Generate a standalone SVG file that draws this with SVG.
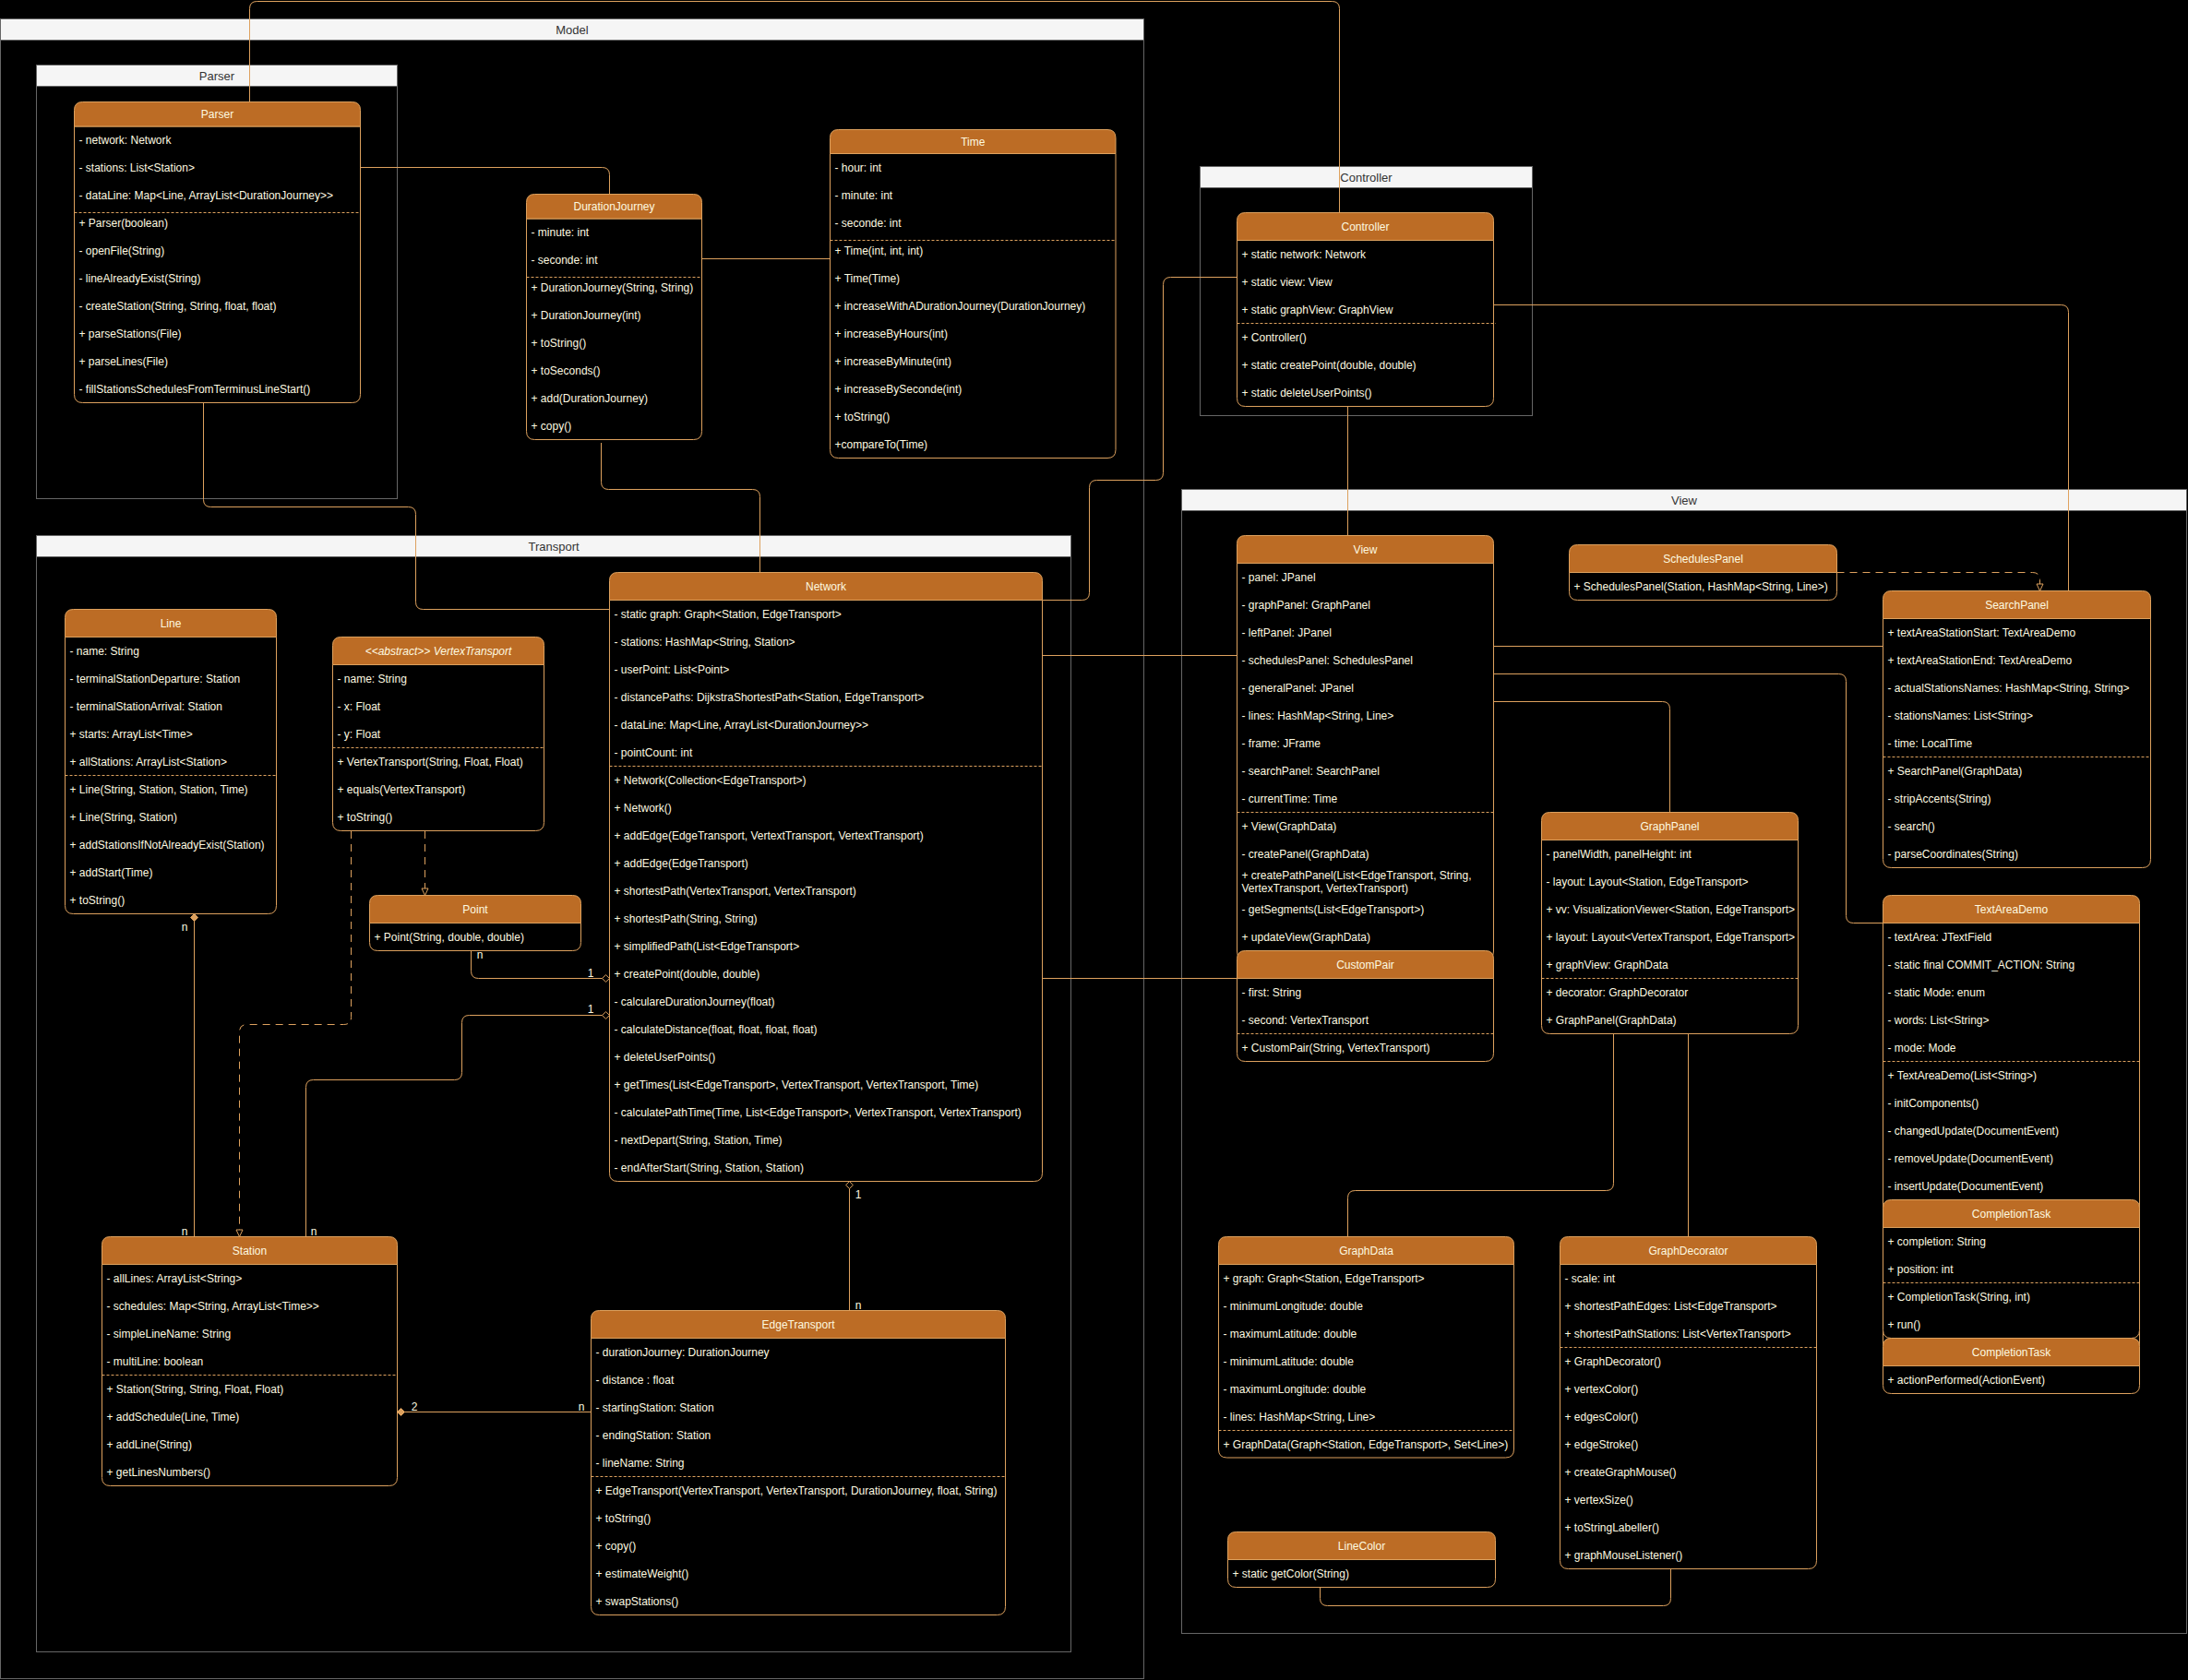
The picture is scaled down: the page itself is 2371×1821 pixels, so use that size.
<svg xmlns="http://www.w3.org/2000/svg" width="2371" height="1821" viewBox="0 0 2371 1821">
<style>
.hd{fill:#BC6C25;stroke:#DDA15E;stroke-width:1}
.bd{fill:#000;stroke:#DDA15E;stroke-width:1}
.sep{fill:none;stroke:#DDA15E;stroke-width:1;stroke-dasharray:3 2}
.t{font-family:"Liberation Sans",Arial,Helvetica,sans-serif;font-size:12px;fill:#FEFAE0}
.ti{text-anchor:middle}
.it{font-style:italic}
.cbox{fill:none;stroke:#666666;stroke-width:1}
.cbar{fill:#F5F5F5;stroke:#666666;stroke-width:1}
.ctt{font-family:"Liberation Sans",Arial,Helvetica,sans-serif;font-size:13px;fill:#333333;text-anchor:middle}
.e{fill:none;stroke:#DDA15E;stroke-width:1}
.dash{stroke-dasharray:8 6}
.lb{font-family:"Liberation Sans",Arial,Helvetica,sans-serif;font-size:12px;fill:#FEFAE0;text-anchor:middle}
</style>
<defs>
<marker id="dHollow" markerUnits="userSpaceOnUse" markerWidth="10" markerHeight="10" viewBox="0 0 10 10" refX="9" refY="5" orient="auto-start-reverse"><path d="M1,5 L5,1.2 L9,5 L5,8.8 Z" fill="#000" stroke="#DDA15E"/></marker>
<marker id="dFilled" markerUnits="userSpaceOnUse" markerWidth="10" markerHeight="10" viewBox="0 0 10 10" refX="9" refY="5" orient="auto-start-reverse"><path d="M1,5 L5,1 L9,5 L5,9 Z" fill="#DDA15E" stroke="#DDA15E"/></marker>
<marker id="tri" markerUnits="userSpaceOnUse" markerWidth="10" markerHeight="10" viewBox="0 0 10 10" refX="8.5" refY="5" orient="auto"><path d="M1,1.5 L8.5,5 L1,8.5 Z" fill="#000" stroke="#DDA15E"/></marker>
</defs>
<rect x="0" y="0" width="2371" height="1821" fill="#000"/>

<!-- containers -->
<g id="container-Model">
<rect class="cbox" x="0.5" y="20.5" width="1239" height="1799"/>
<rect class="cbar" x="0.5" y="20.5" width="1239" height="23"/>
<text class="ctt" x="620" y="36.5">Model</text>
</g>
<g id="container-Parser">
<rect class="cbox" x="39.5" y="70.5" width="391" height="470"/>
<rect class="cbar" x="39.5" y="70.5" width="391" height="23"/>
<text class="ctt" x="235" y="86.5">Parser</text>
</g>
<g id="container-Transport">
<rect class="cbox" x="39.5" y="580.5" width="1121" height="1210"/>
<rect class="cbar" x="39.5" y="580.5" width="1121" height="23"/>
<text class="ctt" x="600" y="596.5">Transport</text>
</g>
<g id="container-Controller">
<rect class="cbox" x="1300.5" y="180.5" width="360" height="270"/>
<rect class="cbar" x="1300.5" y="180.5" width="360" height="23"/>
<text class="ctt" x="1480.5" y="196.5">Controller</text>
</g>
<g id="container-View">
<rect class="cbox" x="1280.5" y="530.5" width="1089" height="1240"/>
<rect class="cbar" x="1280.5" y="530.5" width="1089" height="23"/>
<text class="ctt" x="1825" y="546.5">View</text>
</g>

<!-- connectors -->
<g id="connectors">
<path class="e" d="M270.5,110.5 V9.5 Q270.5,1.5 278.5,1.5 H1443.5 Q1451.5,1.5 1451.5,9.5 V230.5"/>
<path class="e" d="M390.5,181.5 H652.5 Q660.5,181.5 660.5,189.5 V210.5"/>
<path class="e" d="M760.5,280.5 H899.5"/>
<path class="e" d="M651.5,480 V522.5 Q651.5,530.5 659.5,530.5 H815.5 Q823.5,530.5 823.5,538.5 V620.5"/>
<path class="e" d="M220.5,436.5 V541.5 Q220.5,549.5 228.5,549.5 H442.5 Q450.5,549.5 450.5,557.5 V652.5 Q450.5,660.5 458.5,660.5 H660.5"/>
<path class="e" d="M1129.5,650.5 H1172.5 Q1180.5,650.5 1180.5,642.5 V528.5 Q1180.5,520.5 1188.5,520.5 H1252.5 Q1260.5,520.5 1260.5,512.5 V308.5 Q1260.5,300.5 1268.5,300.5 H1340.5"/>
<path class="e" d="M1618.5,330.5 H2233.5 Q2241.5,330.5 2241.5,338.5 V640.5"/>
<path class="e" d="M1460.5,440.5 V580.5"/>
<path class="e" d="M1129.5,710.5 H1340.5"/>
<path class="e" d="M1129.5,1060.5 H1340.5"/>
<path class="e" d="M1618.5,700.5 H2040.5"/>
<path class="e" d="M1618.5,730.5 H1992.5 Q2000.5,730.5 2000.5,738.5 V992.5 Q2000.5,1000.5 2008.5,1000.5 H2040.5"/>
<path class="e" d="M1618.5,760.5 H1801.5 Q1809.5,760.5 1809.5,768.5 V880.5"/>
<path class="e dash" d="M1990.5,620.5 H2202.5 Q2210.5,620.5 2210.5,628.5 V640.5" marker-end="url(#tri)"/>
<path class="e dash" d="M460.5,901 V970.5" marker-end="url(#tri)"/>
<path class="e dash" d="M380.5,901 V1102.5 Q380.5,1110.5 372.5,1110.5 H267.5 Q259.5,1110.5 259.5,1118.5 V1340.5" marker-end="url(#tri)"/>
<path class="e" d="M210.5,990.5 V1340.5" marker-start="url(#dFilled)"/>
<path class="e" d="M510.5,1030.5 V1052.5 Q510.5,1060.5 518.5,1060.5 H660.5" marker-end="url(#dHollow)"/>
<path class="e" d="M331.5,1340.5 V1178.5 Q331.5,1170.5 339.5,1170.5 H492.5 Q500.5,1170.5 500.5,1162.5 V1108.5 Q500.5,1100.5 508.5,1100.5 H660.5" marker-end="url(#dHollow)"/>
<path class="e" d="M920.5,1420.5 V1280.5" marker-end="url(#dHollow)"/>
<path class="e" d="M640.5,1530.5 H430.5" marker-end="url(#dFilled)"/>
<path class="e" d="M1748.5,1120.5 V1282.5 Q1748.5,1290.5 1740.5,1290.5 H1468.5 Q1460.5,1290.5 1460.5,1298.5 V1340.5"/>
<path class="e" d="M1829.5,1120.5 V1340.5"/>
<path class="e" d="M1430.5,1720.5 V1732.5 Q1430.5,1740.5 1438.5,1740.5 H1802.5 Q1810.5,1740.5 1810.5,1732.5 V1700.5"/>
<text class="lb" x="200" y="1008.5">n</text>
<text class="lb" x="200" y="1338.5">n</text>
<text class="lb" x="520" y="1038.5">n</text>
<text class="lb" x="640" y="1058.5">1</text>
<text class="lb" x="340" y="1338.5">n</text>
<text class="lb" x="640" y="1098">1</text>
<text class="lb" x="930" y="1299">1</text>
<text class="lb" x="930" y="1418.5">n</text>
<text class="lb" x="449" y="1529">2</text>
<text class="lb" x="630" y="1529">n</text>
</g>

<!-- classes -->
<g id="node-Parser">
<path class="bd" d="M80.5,137 V427.5 Q80.5,436.5 89.5,436.5 H381.5 Q390.5,436.5 390.5,427.5 V137 Z"/>
<path class="hd" d="M80.5,137 V119.5 Q80.5,110.5 89.5,110.5 H381.5 Q390.5,110.5 390.5,119.5 V137 Z"/>
<line class="sep" x1="80.5" y1="230.5" x2="390.5" y2="230.5"/>
<g class="t">
<text class="ti" x="235.5" y="128">Parser</text>
<text x="85.5" y="156">- network: Network</text>
<text x="85.5" y="186">- stations: List&lt;Station&gt;</text>
<text x="85.5" y="216">- dataLine: Map&lt;Line, ArrayList&lt;DurationJourney&gt;&gt;</text>
<text x="85.5" y="246">+ Parser(boolean)</text>
<text x="85.5" y="276">- openFile(String)</text>
<text x="85.5" y="306">- lineAlreadyExist(String)</text>
<text x="85.5" y="336">- createStation(String, String, float, float)</text>
<text x="85.5" y="366">+ parseStations(File)</text>
<text x="85.5" y="396">+ parseLines(File)</text>
<text x="85.5" y="426">- fillStationsSchedulesFromTerminusLineStart()</text>
</g>
</g>

<g id="node-DurationJourney">
<path class="bd" d="M570.5,237 V467.5 Q570.5,476.5 579.5,476.5 H751.5 Q760.5,476.5 760.5,467.5 V237 Z"/>
<path class="hd" d="M570.5,237 V219.5 Q570.5,210.5 579.5,210.5 H751.5 Q760.5,210.5 760.5,219.5 V237 Z"/>
<line class="sep" x1="570.5" y1="300.5" x2="760.5" y2="300.5"/>
<g class="t">
<text class="ti" x="665.5" y="228">DurationJourney</text>
<text x="575.5" y="256">- minute: int</text>
<text x="575.5" y="286">- seconde: int</text>
<text x="575.5" y="316">+ DurationJourney(String, String)</text>
<text x="575.5" y="346">+ DurationJourney(int)</text>
<text x="575.5" y="376">+ toString()</text>
<text x="575.5" y="406">+ toSeconds()</text>
<text x="575.5" y="436">+ add(DurationJourney)</text>
<text x="575.5" y="466">+ copy()</text>
</g>
</g>

<g id="node-Time">
<path class="bd" d="M899.5,166.5 V487.5 Q899.5,496.5 908.5,496.5 H1200 Q1209,496.5 1209,487.5 V166.5 Z"/>
<path class="hd" d="M899.5,166.5 V149.5 Q899.5,140.5 908.5,140.5 H1200 Q1209,140.5 1209,149.5 V166.5 Z"/>
<line class="sep" x1="899.5" y1="260.5" x2="1209" y2="260.5"/>
<g class="t">
<text class="ti" x="1054.3" y="158">Time</text>
<text x="904.5" y="186">- hour: int</text>
<text x="904.5" y="216">- minute: int</text>
<text x="904.5" y="246">- seconde: int</text>
<text x="904.5" y="276">+ Time(int, int, int)</text>
<text x="904.5" y="306">+ Time(Time)</text>
<text x="904.5" y="336">+ increaseWithADurationJourney(DurationJourney)</text>
<text x="904.5" y="366">+ increaseByHours(int)</text>
<text x="904.5" y="396">+ increaseByMinute(int)</text>
<text x="904.5" y="426">+ increaseBySeconde(int)</text>
<text x="904.5" y="456">+ toString()</text>
<text x="904.5" y="486">+compareTo(Time)</text>
</g>
</g>

<g id="node-Controller">
<path class="bd" d="M1340.5,260.5 V431.5 Q1340.5,440.5 1349.5,440.5 H1609.5 Q1618.5,440.5 1618.5,431.5 V260.5 Z"/>
<path class="hd" d="M1340.5,260.5 V239.5 Q1340.5,230.5 1349.5,230.5 H1609.5 Q1618.5,230.5 1618.5,239.5 V260.5 Z"/>
<line class="sep" x1="1340.5" y1="350.5" x2="1621" y2="350.5"/>
<g class="t">
<text class="ti" x="1479.5" y="250">Controller</text>
<text x="1345.5" y="280">+ static network: Network</text>
<text x="1345.5" y="310">+ static view: View</text>
<text x="1345.5" y="340">+ static graphView: GraphView</text>
<text x="1345.5" y="370">+ Controller()</text>
<text x="1345.5" y="400">+ static createPoint(double, double)</text>
<text x="1345.5" y="430">+ static deleteUserPoints()</text>
</g>
</g>

<g id="node-Line">
<path class="bd" d="M70.5,690.5 V981.5 Q70.5,990.5 79.5,990.5 H290.5 Q299.5,990.5 299.5,981.5 V690.5 Z"/>
<path class="hd" d="M70.5,690.5 V669.5 Q70.5,660.5 79.5,660.5 H290.5 Q299.5,660.5 299.5,669.5 V690.5 Z"/>
<line class="sep" x1="70.5" y1="840.5" x2="299.5" y2="840.5"/>
<g class="t">
<text class="ti" x="185" y="680">Line</text>
<text x="75.5" y="710">- name: String</text>
<text x="75.5" y="740">- terminalStationDeparture: Station</text>
<text x="75.5" y="770">- terminalStationArrival: Station</text>
<text x="75.5" y="800">+ starts: ArrayList&lt;Time&gt;</text>
<text x="75.5" y="830">+ allStations: ArrayList&lt;Station&gt;</text>
<text x="75.5" y="860">+ Line(String, Station, Station, Time)</text>
<text x="75.5" y="890">+ Line(String, Station)</text>
<text x="75.5" y="920">+ addStationsIfNotAlreadyExist(Station)</text>
<text x="75.5" y="950">+ addStart(Time)</text>
<text x="75.5" y="980">+ toString()</text>
</g>
</g>

<g id="node-VertexTransport">
<path class="bd" d="M360.5,720.5 V891.5 Q360.5,900.5 369.5,900.5 H580.5 Q589.5,900.5 589.5,891.5 V720.5 Z"/>
<path class="hd" d="M360.5,720.5 V699.5 Q360.5,690.5 369.5,690.5 H580.5 Q589.5,690.5 589.5,699.5 V720.5 Z"/>
<line class="sep" x1="360.5" y1="810.5" x2="589.5" y2="810.5"/>
<g class="t">
<text class="ti it" x="475" y="710">&lt;&lt;abstract&gt;&gt; VertexTransport</text>
<text x="365.5" y="740">- name: String</text>
<text x="365.5" y="770">- x: Float</text>
<text x="365.5" y="800">- y: Float</text>
<text x="365.5" y="830">+ VertexTransport(String, Float, Float)</text>
<text x="365.5" y="860">+ equals(VertexTransport)</text>
<text x="365.5" y="890">+ toString()</text>
</g>
</g>

<g id="node-Point">
<path class="bd" d="M400.5,1000.5 V1021.5 Q400.5,1030.5 409.5,1030.5 H620.5 Q629.5,1030.5 629.5,1021.5 V1000.5 Z"/>
<path class="hd" d="M400.5,1000.5 V979.5 Q400.5,970.5 409.5,970.5 H620.5 Q629.5,970.5 629.5,979.5 V1000.5 Z"/>
<g class="t">
<text class="ti" x="515" y="989.5">Point</text>
<text x="405.5" y="1020">+ Point(String, double, double)</text>
</g>
</g>

<g id="node-Station">
<path class="bd" d="M110.5,1370.5 V1601.5 Q110.5,1610.5 119.5,1610.5 H421.5 Q430.5,1610.5 430.5,1601.5 V1370.5 Z"/>
<path class="hd" d="M110.5,1370.5 V1349.5 Q110.5,1340.5 119.5,1340.5 H421.5 Q430.5,1340.5 430.5,1349.5 V1370.5 Z"/>
<line class="sep" x1="110.5" y1="1490.5" x2="430.5" y2="1490.5"/>
<g class="t">
<text class="ti" x="270.5" y="1360">Station</text>
<text x="115.5" y="1390">- allLines: ArrayList&lt;String&gt;</text>
<text x="115.5" y="1420">- schedules: Map&lt;String, ArrayList&lt;Time&gt;&gt;</text>
<text x="115.5" y="1450">- simpleLineName: String</text>
<text x="115.5" y="1480">- multiLine: boolean</text>
<text x="115.5" y="1510">+ Station(String, String, Float, Float)</text>
<text x="115.5" y="1540">+ addSchedule(Line, Time)</text>
<text x="115.5" y="1570">+ addLine(String)</text>
<text x="115.5" y="1600">+ getLinesNumbers()</text>
</g>
</g>

<g id="node-Network">
<path class="bd" d="M660.5,650.5 V1271.5 Q660.5,1280.5 669.5,1280.5 H1120.5 Q1129.5,1280.5 1129.5,1271.5 V650.5 Z"/>
<path class="hd" d="M660.5,650.5 V629.5 Q660.5,620.5 669.5,620.5 H1120.5 Q1129.5,620.5 1129.5,629.5 V650.5 Z"/>
<line class="sep" x1="660.5" y1="830.5" x2="1129.5" y2="830.5"/>
<g class="t">
<text class="ti" x="895" y="640">Network</text>
<text x="665.5" y="670">- static graph: Graph&lt;Station, EdgeTransport&gt;</text>
<text x="665.5" y="700">- stations: HashMap&lt;String, Station&gt;</text>
<text x="665.5" y="730">- userPoint: List&lt;Point&gt;</text>
<text x="665.5" y="760">- distancePaths: DijkstraShortestPath&lt;Station, EdgeTransport&gt;</text>
<text x="665.5" y="790">- dataLine: Map&lt;Line, ArrayList&lt;DurationJourney&gt;&gt;</text>
<text x="665.5" y="820">- pointCount: int</text>
<text x="665.5" y="850">+ Network(Collection&lt;EdgeTransport&gt;)</text>
<text x="665.5" y="880">+ Network()</text>
<text x="665.5" y="910">+ addEdge(EdgeTransport, VertextTransport, VertextTransport)</text>
<text x="665.5" y="940">+ addEdge(EdgeTransport)</text>
<text x="665.5" y="970">+ shortestPath(VertexTransport, VertexTransport)</text>
<text x="665.5" y="1000">+ shortestPath(String, String)</text>
<text x="665.5" y="1030">+ simplifiedPath(List&lt;EdgeTransport&gt;</text>
<text x="665.5" y="1060">+ createPoint(double, double)</text>
<text x="665.5" y="1090">- calculareDurationJourney(float)</text>
<text x="665.5" y="1120">- calculateDistance(float, float, float, float)</text>
<text x="665.5" y="1150">+ deleteUserPoints()</text>
<text x="665.5" y="1180">+ getTimes(List&lt;EdgeTransport&gt;, VertexTransport, VertexTransport, Time)</text>
<text x="665.5" y="1210">- calculatePathTime(Time, List&lt;EdgeTransport&gt;, VertexTransport, VertexTransport)</text>
<text x="665.5" y="1240">- nextDepart(String, Station, Time)</text>
<text x="665.5" y="1270">- endAfterStart(String, Station, Station)</text>
</g>
</g>

<g id="node-EdgeTransport">
<path class="bd" d="M640.5,1450.5 V1741.5 Q640.5,1750.5 649.5,1750.5 H1080.5 Q1089.5,1750.5 1089.5,1741.5 V1450.5 Z"/>
<path class="hd" d="M640.5,1450.5 V1429.5 Q640.5,1420.5 649.5,1420.5 H1080.5 Q1089.5,1420.5 1089.5,1429.5 V1450.5 Z"/>
<line class="sep" x1="640.5" y1="1600.5" x2="1089.5" y2="1600.5"/>
<g class="t">
<text class="ti" x="865" y="1440">EdgeTransport</text>
<text x="645.5" y="1470">- durationJourney: DurationJourney</text>
<text x="645.5" y="1500">- distance : float</text>
<text x="645.5" y="1530">- startingStation: Station</text>
<text x="645.5" y="1560">- endingStation: Station</text>
<text x="645.5" y="1590">- lineName: String</text>
<text x="645.5" y="1620">+ EdgeTransport(VertexTransport, VertexTransport, DurationJourney, float, String)</text>
<text x="645.5" y="1650">+ toString()</text>
<text x="645.5" y="1680">+ copy()</text>
<text x="645.5" y="1710">+ estimateWeight()</text>
<text x="645.5" y="1740">+ swapStations()</text>
</g>
</g>

<g id="node-View">
<path class="bd" d="M1340.5,610.5 V1031 Q1340.5,1040 1349.5,1040 H1609.5 Q1618.5,1040 1618.5,1031 V610.5 Z"/>
<path class="hd" d="M1340.5,610.5 V589.5 Q1340.5,580.5 1349.5,580.5 H1609.5 Q1618.5,580.5 1618.5,589.5 V610.5 Z"/>
<line class="sep" x1="1340.5" y1="880.5" x2="1618.5" y2="880.5"/>
<g class="t">
<text class="ti" x="1479.5" y="600">View</text>
<text x="1345.5" y="630">- panel: JPanel</text>
<text x="1345.5" y="660">- graphPanel: GraphPanel</text>
<text x="1345.5" y="690">- leftPanel: JPanel</text>
<text x="1345.5" y="720">- schedulesPanel: SchedulesPanel</text>
<text x="1345.5" y="750">- generalPanel: JPanel</text>
<text x="1345.5" y="780">- lines: HashMap&lt;String, Line&gt;</text>
<text x="1345.5" y="810">- frame: JFrame</text>
<text x="1345.5" y="840">- searchPanel: SearchPanel</text>
<text x="1345.5" y="870">- currentTime: Time</text>
<text x="1345.5" y="900">+ View(GraphData)</text>
<text x="1345.5" y="930">- createPanel(GraphData)</text>
<text x="1345.5" y="953">+ createPathPanel(List&lt;EdgeTransport, String,</text>
<text x="1345.5" y="967">VertexTransport, VertexTransport)</text>
<text x="1345.5" y="990">- getSegments(List&lt;EdgeTransport&gt;)</text>
<text x="1345.5" y="1020">+ updateView(GraphData)</text>
</g>
</g>

<g id="node-CustomPair">
<path class="bd" d="M1340.5,1060.5 V1141.5 Q1340.5,1150.5 1349.5,1150.5 H1609.5 Q1618.5,1150.5 1618.5,1141.5 V1060.5 Z"/>
<path class="hd" d="M1340.5,1060.5 V1039.5 Q1340.5,1030.5 1349.5,1030.5 H1609.5 Q1618.5,1030.5 1618.5,1039.5 V1060.5 Z"/>
<line class="sep" x1="1340.5" y1="1120.5" x2="1618.5" y2="1120.5"/>
<g class="t">
<text class="ti" x="1479.5" y="1050">CustomPair</text>
<text x="1345.5" y="1080">- first: String</text>
<text x="1345.5" y="1110">- second: VertexTransport</text>
<text x="1345.5" y="1140">+ CustomPair(String, VertexTransport)</text>
</g>
</g>

<g id="node-SchedulesPanel">
<path class="bd" d="M1700.5,620.5 V641.5 Q1700.5,650.5 1709.5,650.5 H1981.5 Q1990.5,650.5 1990.5,641.5 V620.5 Z"/>
<path class="hd" d="M1700.5,620.5 V599.5 Q1700.5,590.5 1709.5,590.5 H1981.5 Q1990.5,590.5 1990.5,599.5 V620.5 Z"/>
<g class="t">
<text class="ti" x="1845.5" y="610">SchedulesPanel</text>
<text x="1705.5" y="640">+ SchedulesPanel(Station, HashMap&lt;String, Line&gt;)</text>
</g>
</g>

<g id="node-SearchPanel">
<path class="bd" d="M2040.5,670.5 V931.5 Q2040.5,940.5 2049.5,940.5 H2321.5 Q2330.5,940.5 2330.5,931.5 V670.5 Z"/>
<path class="hd" d="M2040.5,670.5 V649.5 Q2040.5,640.5 2049.5,640.5 H2321.5 Q2330.5,640.5 2330.5,649.5 V670.5 Z"/>
<line class="sep" x1="2040.5" y1="820.5" x2="2330.5" y2="820.5"/>
<g class="t">
<text class="ti" x="2185.5" y="660">SearchPanel</text>
<text x="2045.5" y="690">+ textAreaStationStart: TextAreaDemo</text>
<text x="2045.5" y="720">+ textAreaStationEnd: TextAreaDemo</text>
<text x="2045.5" y="750">- actualStationsNames: HashMap&lt;String, String&gt;</text>
<text x="2045.5" y="780">- stationsNames: List&lt;String&gt;</text>
<text x="2045.5" y="810">- time: LocalTime</text>
<text x="2045.5" y="840">+ SearchPanel(GraphData)</text>
<text x="2045.5" y="870">- stripAccents(String)</text>
<text x="2045.5" y="900">- search()</text>
<text x="2045.5" y="930">- parseCoordinates(String)</text>
</g>
</g>

<g id="node-GraphPanel">
<path class="bd" d="M1670.5,910.5 V1111.5 Q1670.5,1120.5 1679.5,1120.5 H1939.5 Q1948.5,1120.5 1948.5,1111.5 V910.5 Z"/>
<path class="hd" d="M1670.5,910.5 V889.5 Q1670.5,880.5 1679.5,880.5 H1939.5 Q1948.5,880.5 1948.5,889.5 V910.5 Z"/>
<line class="sep" x1="1670.5" y1="1060.5" x2="1948.5" y2="1060.5"/>
<g class="t">
<text class="ti" x="1809.5" y="900">GraphPanel</text>
<text x="1675.5" y="930">- panelWidth, panelHeight: int</text>
<text x="1675.5" y="960">- layout: Layout&lt;Station, EdgeTransport&gt;</text>
<text x="1675.5" y="990">+ vv: VisualizationViewer&lt;Station, EdgeTransport&gt;</text>
<text x="1675.5" y="1020">+ layout: Layout&lt;VertexTransport, EdgeTransport&gt;</text>
<text x="1675.5" y="1050">+ graphView: GraphData</text>
<text x="1675.5" y="1080">+ decorator: GraphDecorator</text>
<text x="1675.5" y="1110">+ GraphPanel(GraphData)</text>
</g>
</g>

<g id="node-TextAreaDemo">
<path class="bd" d="M2040.5,1000.5 V1456 Q2040.5,1465 2049.5,1465 H2309.5 Q2318.5,1465 2318.5,1456 V1000.5 Z"/>
<path class="hd" d="M2040.5,1000.5 V979.5 Q2040.5,970.5 2049.5,970.5 H2309.5 Q2318.5,970.5 2318.5,979.5 V1000.5 Z"/>
<line class="sep" x1="2040.5" y1="1150.5" x2="2318.5" y2="1150.5"/>
<g class="t">
<text class="ti" x="2179.5" y="990">TextAreaDemo</text>
<text x="2045.5" y="1020">- textArea: JTextField</text>
<text x="2045.5" y="1050">- static final COMMIT_ACTION: String</text>
<text x="2045.5" y="1080">- static Mode: enum</text>
<text x="2045.5" y="1110">- words: List&lt;String&gt;</text>
<text x="2045.5" y="1140">- mode: Mode</text>
<text x="2045.5" y="1170">+ TextAreaDemo(List&lt;String&gt;)</text>
<text x="2045.5" y="1200">- initComponents()</text>
<text x="2045.5" y="1230">- changedUpdate(DocumentEvent)</text>
<text x="2045.5" y="1260">- removeUpdate(DocumentEvent)</text>
<text x="2045.5" y="1290">- insertUpdate(DocumentEvent)</text>
</g>
</g>

<g id="node-CompletionTask">
<path class="bd" d="M2040.5,1330.5 V1441.5 Q2040.5,1450.5 2049.5,1450.5 H2309.5 Q2318.5,1450.5 2318.5,1441.5 V1330.5 Z"/>
<path class="hd" d="M2040.5,1330.5 V1309.5 Q2040.5,1300.5 2049.5,1300.5 H2309.5 Q2318.5,1300.5 2318.5,1309.5 V1330.5 Z"/>
<line class="sep" x1="2040.5" y1="1390.5" x2="2318.5" y2="1390.5"/>
<g class="t">
<text class="ti" x="2179.5" y="1319.5">CompletionTask</text>
<text x="2045.5" y="1350">+ completion: String</text>
<text x="2045.5" y="1380">+ position: int</text>
<text x="2045.5" y="1410">+ CompletionTask(String, int)</text>
<text x="2045.5" y="1440">+ run()</text>
</g>
</g>

<g id="node-CompletionTask2">
<path class="bd" d="M2040.5,1480.5 V1501.5 Q2040.5,1510.5 2049.5,1510.5 H2309.5 Q2318.5,1510.5 2318.5,1501.5 V1480.5 Z"/>
<path class="hd" d="M2040.5,1480.5 V1459.5 Q2040.5,1450.5 2049.5,1450.5 H2309.5 Q2318.5,1450.5 2318.5,1459.5 V1480.5 Z"/>
<g class="t">
<text class="ti" x="2179.5" y="1469.5">CompletionTask</text>
<text x="2045.5" y="1500">+ actionPerformed(ActionEvent)</text>
</g>
</g>

<g id="node-GraphData">
<path class="bd" d="M1320.5,1370.5 V1571 Q1320.5,1580 1329.5,1580 H1631.5 Q1640.5,1580 1640.5,1571 V1370.5 Z"/>
<path class="hd" d="M1320.5,1370.5 V1349.5 Q1320.5,1340.5 1329.5,1340.5 H1631.5 Q1640.5,1340.5 1640.5,1349.5 V1370.5 Z"/>
<line class="sep" x1="1320.5" y1="1550.5" x2="1640.5" y2="1550.5"/>
<g class="t">
<text class="ti" x="1480.5" y="1360">GraphData</text>
<text x="1325.5" y="1390">+ graph: Graph&lt;Station, EdgeTransport&gt;</text>
<text x="1325.5" y="1420">- minimumLongitude: double</text>
<text x="1325.5" y="1450">- maximumLatitude: double</text>
<text x="1325.5" y="1480">- minimumLatitude: double</text>
<text x="1325.5" y="1510">- maximumLongitude: double</text>
<text x="1325.5" y="1540">- lines: HashMap&lt;String, Line&gt;</text>
<text x="1325.5" y="1570">+ GraphData(Graph&lt;Station, EdgeTransport&gt;, Set&lt;Line&gt;)</text>
</g>
</g>

<g id="node-GraphDecorator">
<path class="bd" d="M1690.5,1370.5 V1691.5 Q1690.5,1700.5 1699.5,1700.5 H1959.5 Q1968.5,1700.5 1968.5,1691.5 V1370.5 Z"/>
<path class="hd" d="M1690.5,1370.5 V1349.5 Q1690.5,1340.5 1699.5,1340.5 H1959.5 Q1968.5,1340.5 1968.5,1349.5 V1370.5 Z"/>
<line class="sep" x1="1690.5" y1="1460.5" x2="1968.5" y2="1460.5"/>
<g class="t">
<text class="ti" x="1829.5" y="1360">GraphDecorator</text>
<text x="1695.5" y="1390">- scale: int</text>
<text x="1695.5" y="1420">+ shortestPathEdges: List&lt;EdgeTransport&gt;</text>
<text x="1695.5" y="1450">+ shortestPathStations: List&lt;VertexTransport&gt;</text>
<text x="1695.5" y="1480">+ GraphDecorator()</text>
<text x="1695.5" y="1510">+ vertexColor()</text>
<text x="1695.5" y="1540">+ edgesColor()</text>
<text x="1695.5" y="1570">+ edgeStroke()</text>
<text x="1695.5" y="1600">+ createGraphMouse()</text>
<text x="1695.5" y="1630">+ vertexSize()</text>
<text x="1695.5" y="1660">+ toStringLabeller()</text>
<text x="1695.5" y="1690">+ graphMouseListener()</text>
</g>
</g>

<g id="node-LineColor">
<path class="bd" d="M1330.5,1690.5 V1711.5 Q1330.5,1720.5 1339.5,1720.5 H1611.5 Q1620.5,1720.5 1620.5,1711.5 V1690.5 Z"/>
<path class="hd" d="M1330.5,1690.5 V1669.5 Q1330.5,1660.5 1339.5,1660.5 H1611.5 Q1620.5,1660.5 1620.5,1669.5 V1690.5 Z"/>
<g class="t">
<text class="ti" x="1475.5" y="1680">LineColor</text>
<text x="1335.5" y="1710">+ static getColor(String)</text>
</g>
</g>
</svg>
